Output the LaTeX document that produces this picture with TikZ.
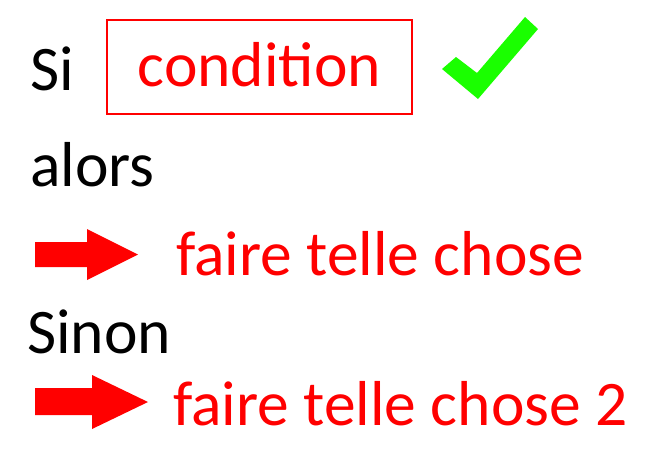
\documentclass[tikz,border=0pt]{standalone}
\usepackage{fontspec}
\setmainfont{Carlito}
\definecolor{checkgreen}{RGB}{26,255,0}
\begin{document}
\begin{tikzpicture}[x=1pt,y=-1pt,
  word/.style={anchor=base west, inner sep=0pt, font=\fontsize{63.5}{70}\selectfont},
  keyword/.style={word, text=black},
  action/.style={word, text=red},
  condbox/.style={draw=red, line width=2pt, text=red, inner sep=0pt,
    minimum width=305pt, minimum height=94pt, text height=38pt, text depth=0pt,
    font=\fontsize{63.5}{70}\selectfont},
  bigarrow/.style={fill=red, draw=none}]
  \useasboundingbox (0,0) rectangle (653,464);

  % first line: condition
  \node[keyword] (si) at (30,90) {Si};
  \node[condbox] (cond) at (259.5,67) {condition};
  \fill[checkgreen] (442,69) -- (456,57) -- (477,73) -- (525,17) -- (538,29) -- (478,99) -- cycle;

  % then branch
  \node[keyword] (alors) at (30,186) {alors};
  \fill[bigarrow] (35,242) -- (87,242) -- (87,229) -- (138,254.5) -- (87,280) -- (87,267) -- (35,267) -- cycle;
  \node[action] (act1) at (176,275) {faire telle chose};

  % else branch
  \node[keyword] (sinon) at (27,353) {Sinon};
  \fill[bigarrow] (35,388) -- (92,388) -- (92,375) -- (148,402) -- (92,429) -- (92,415) -- (35,415) -- cycle;
  \node[action] (act2) at (173,425) {faire telle chose 2};
\end{tikzpicture}
\end{document}
